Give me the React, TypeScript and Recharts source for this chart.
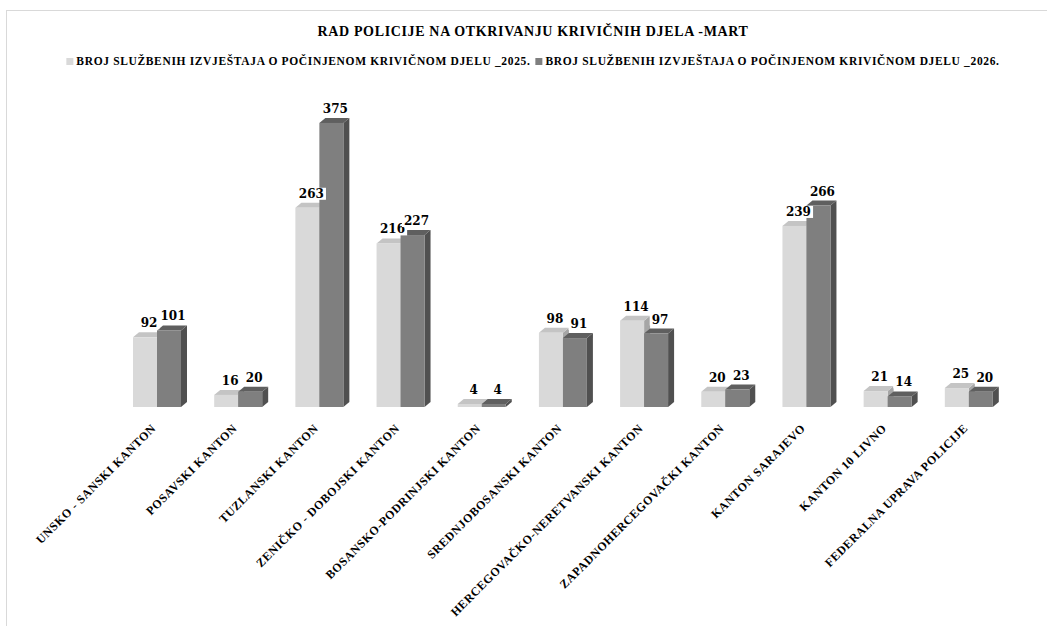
import React from 'react';
import { BarChart, Bar, XAxis, YAxis, LabelList } from 'recharts';

const title = 'RAD POLICIJE NA OTKRIVANJU KRIVIČNIH DJELA -MART';
const categories = [
  'UNSKO - SANSKI KANTON',
  'POSAVSKI KANTON',
  'TUZLANSKI KANTON',
  'ZENIČKO - DOBOJSKI KANTON',
  'BOSANSKO-PODRINJSKI KANTON',
  'SREDNJOBOSANSKI KANTON',
  'HERCEGOVAČKO-NERETVANSKI KANTON',
  'ZAPADNOHERCEGOVAČKI KANTON',
  'KANTON SARAJEVO',
  'KANTON 10 LIVNO',
  'FEDERALNA UPRAVA POLICIJE',
];
const values2025 = [92, 16, 263, 216, 4, 98, 114, 20, 239, 21, 25];
const values2026 = [101, 20, 375, 227, 4, 91, 97, 23, 266, 14, 20];
const seriesNames = [
  'BROJ SLUŽBENIH IZVJEŠTAJA O POČINJENOM KRIVIČNOM DJELU _2025.',
  'BROJ SLUŽBENIH IZVJEŠTAJA O POČINJENOM KRIVIČNOM DJELU _2026.',
];

const data = categories.map((name, i) => ({
  name,
  v2025: values2025[i],
  v2026: values2026[i],
}));

const SERIF = '"Liberation Serif", "DejaVu Serif", serif';
const LABEL_FONT = '"DejaVu Serif", "Liberation Serif", serif';

const colors = {
  light: { front: '#d9d9d9', top: '#c4c4c4', side: '#a6a6a6' },
  dark: { front: '#7f7f7f', top: '#5f5f5f', side: '#505050' },
};

const make3D = (c: { front: string; top: string; side: string }) => (props: any) => {
  const { x, y, width: w, height: h } = props;
  if (w == null || h == null) return null;
  const d = 6;
  const e = 5;
  return (
    <g>
      <polygon
        points={`${x + w},${y} ${x + w + d},${y - e} ${x + w + d},${y + h - e} ${x + w},${y + h}`}
        fill={c.side}
      />
      <polygon
        points={`${x},${y} ${x + d},${y - e} ${x + w + d},${y - e} ${x + w},${y}`}
        fill={c.top}
      />
      <rect x={x} y={y} width={w} height={h} fill={c.front} />
    </g>
  );
};

const renderLabel = (props: any) => {
  const { x, y, width, value } = props;
  const cx = x + width / 2 + 4;
  const by = y - 10;
  const tw = String(value).length * 8.4 + 4;
  return (
    <g>
      <rect x={cx - tw / 2} y={by - 10} width={tw} height={12} fill="#ffffff" />
      <text
        x={cx}
        y={by}
        textAnchor="middle"
        fontFamily={LABEL_FONT}
        fontWeight="bold"
        fontSize={12}
        fill="#000000"
      >
        {value}
      </text>
    </g>
  );
};

const CategoryTick = (props: any) => {
  const { x, y, payload } = props;
  const ax = x;
  const ay = y + 14;
  return (
    <text
      x={ax}
      y={ay}
      transform={`rotate(-45, ${ax}, ${ay})`}
      textAnchor="end"
      fontFamily={SERIF}
      fontWeight="bold"
      fontSize={12}
      letterSpacing={0.5}
      fill="#000000"
    >
      {payload.value}
    </text>
  );
};

export default function App() {
  return (
    <div
      style={{
        position: 'absolute',
        left: 0,
        top: 0,
        width: 1047,
        height: 626,
        overflow: 'hidden',
        background: '#ffffff',
      }}
    >
      <div
        style={{
          position: 'absolute',
          left: 6,
          top: 10,
          width: 1200,
          height: 800,
          border: '1px solid #d9d9d9',
          boxSizing: 'border-box',
        }}
      />
      <div style={{ position: 'absolute', left: 0, top: 0 }}>
        <BarChart
          width={1047}
          height={626}
          data={data}
          margin={{ top: 104, right: 38, bottom: 0, left: 116 }}
          barCategoryGap={17}
          barGap={0}
        >
          <XAxis
            dataKey="name"
            axisLine={false}
            tickLine={false}
            interval={0}
            height={219}
            tick={<CategoryTick />}
          />
          <YAxis hide domain={[0, 400]} />
          <Bar dataKey="v2025" name={seriesNames[0]} isAnimationActive={false} shape={make3D(colors.light)}>
            <LabelList dataKey="v2025" content={renderLabel} />
          </Bar>
          <Bar dataKey="v2026" name={seriesNames[1]} isAnimationActive={false} shape={make3D(colors.dark)}>
            <LabelList dataKey="v2026" content={renderLabel} />
          </Bar>
        </BarChart>
      </div>
      <div
        style={{
          position: 'absolute',
          left: 533,
          top: 25,
          transform: 'translateX(-50%)',
          whiteSpace: 'nowrap',
          fontFamily: SERIF,
          fontWeight: 'bold',
          fontSize: 14,
          letterSpacing: '0.65px',
          lineHeight: '14px',
          color: '#000000',
        }}
      >
        {title}
      </div>
      <div
        style={{
          position: 'absolute',
          left: 533,
          top: 55,
          transform: 'translateX(-50%)',
          whiteSpace: 'nowrap',
          display: 'flex',
          alignItems: 'center',
          fontFamily: SERIF,
          fontWeight: 'bold',
          fontSize: 11.5,
          letterSpacing: '0.65px',
          lineHeight: '12px',
          color: '#000000',
        }}
      >
        {seriesNames.map((n, i) => (
          <span key={n} style={{ display: 'flex', alignItems: 'center', marginLeft: i === 0 ? 0 : 5 }}>
            <span
              style={{
                display: 'inline-block',
                width: 7,
                height: 7,
                background: i === 0 ? colors.light.front : colors.dark.front,
                marginRight: 3,
              }}
            />
            {n}
          </span>
        ))}
      </div>
    </div>
  );
}
